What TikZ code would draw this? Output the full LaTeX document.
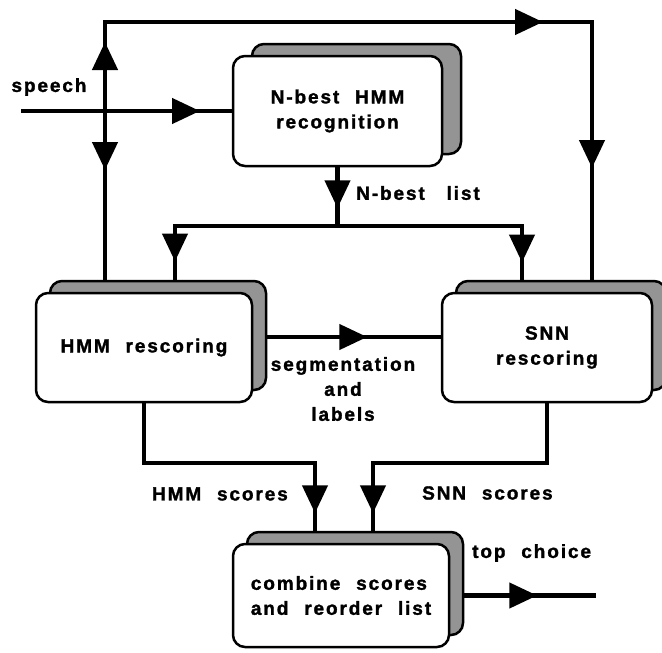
\documentclass[tikz,border=0pt]{standalone}
\usepackage{fontspec}
\setmainfont{Liberation Sans}[BoldFont={Liberation Sans Bold}, BoldFeatures={FakeBold=1.5}, LetterSpace=10, WordSpace=2.2]
\usetikzlibrary{arrows.meta,decorations.markings,shadows,patterns,backgrounds}
\tikzset{
  box/.style n args={3}{draw, line width=2.5pt, rounded corners=12pt, fill=white,
    minimum width=#1, minimum height=#2, align=center, inner sep=0pt,
    general shadow={shadow xshift=#3, shadow yshift=12pt, draw=black, line width=2.5pt,
      fill=black!42}},
  conn/.style={line width=4.5pt},
  arr/.style={postaction={decorate, decoration={markings,
    mark=at position #1 with {\arrow{Triangle[length=28pt,width=25pt]}}}}},
  lbl/.style={inner sep=0pt, align=center},
}
\begin{document}
\begin{tikzpicture}[x=1pt,y=-1pt, font=\fontsize{19}{25}\selectfont\bfseries]
\useasboundingbox (0,0) rectangle (662,653);

\node[box={209}{110}{19pt}] (reco) at (337.5,111) {N-best HMM\\recognition};
\node[box={216}{109}{14pt}] (hmm) at (144,347.5) {HMM rescoring};
\node[box={210}{109}{14pt}] (snn) at (547,347.5) {SNN\\rescoring};
\node[box={216}{103}{14pt}, align=left] (comb) at (341,595.5) {combine scores\\and reorder list};

\node[lbl] (speech) at (49,87) {speech};
\node[lbl, anchor=west] (nbl) at (356,193) {N-best\hspace{6pt} list};
\node[lbl] (seg) at (343,389) {segmentation\\and\\labels};
\node[lbl, anchor=east] (hmmsc) at (288,494) {HMM scores};
\node[lbl, anchor=west] (snnsc) at (422,493) {SNN scores};
\node[lbl, anchor=west] (topc) at (472,553) {top choice};

\coordinate (sp) at (21,111);
\coordinate (j) at (105,111);
\coordinate (tl) at (105,22);
\coordinate (tr) at (592,22);
\coordinate (d) at (337.5,226);
\coordinate (dl) at (175,226);
\coordinate (dr) at (522,226);
\coordinate (segy) at (0,337);
\coordinate (hl) at (144,463);
\coordinate (hc) at (315,463);
\coordinate (sl) at (547,463);
\coordinate (sc) at (373,463);
\coordinate (out) at (596,595.5);

\begin{scope}[on background layer]
\draw[conn, arr=179pt] (sp) -- (reco.west);
\draw[conn, arr=59pt] (j) -- (hmm.north -| j);
\draw[conn, arr=69pt, arr=527pt, arr=722pt] (j) -- (tl) -- (tr) -- (snn.north -| tr);
\draw[conn, arr=41pt] (reco.south) -- (d);
\draw[conn, arr=198pt] (d) -- (dl) -- (hmm.north -| dl);
\draw[conn, arr=221pt] (d) -- (dr) -- (snn.north -| dr);
\draw[conn, arr=114pt] (hmm.east |- segy) -- (snn.west |- segy);
\draw[conn, arr=281pt] (hmm.south) -- (hl) -- (hc) -- (comb.north -| hc);
\draw[conn, arr=284pt] (snn.south) -- (sl) -- (sc) -- (comb.north -| sc);
\draw[conn, arr=87pt] (comb.east) -- (out);
\end{scope}
\end{tikzpicture}
\end{document}
